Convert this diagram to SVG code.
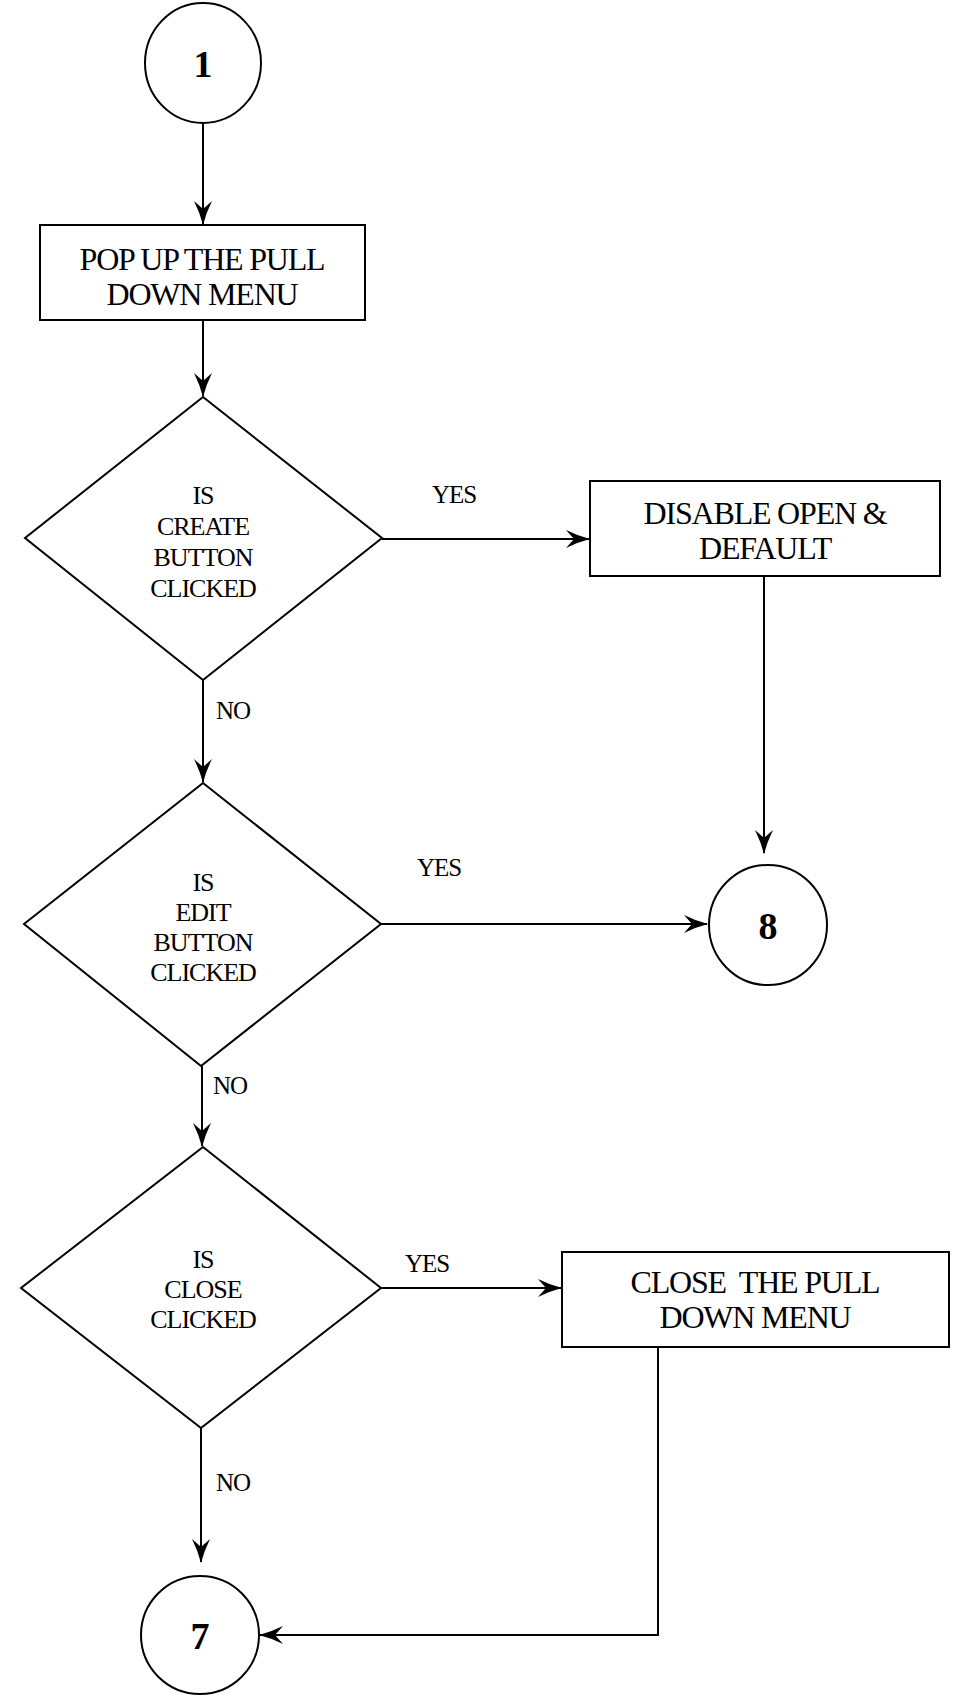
<svg xmlns="http://www.w3.org/2000/svg" width="954" height="1695" viewBox="0 0 954 1695">
<defs>
<style>
.shape{fill:#fff;stroke:#000;stroke-width:2}
.line{fill:none;stroke:#000;stroke-width:2}
.t{font-family:"Liberation Serif","Times New Roman",serif;fill:#000;text-anchor:middle}
.box{font-size:32px;letter-spacing:-1.2px}
.dia{font-size:26px;letter-spacing:-1px}
.lbl{font-size:25px;letter-spacing:-1px;text-anchor:start}
.num{font-size:38px;font-weight:bold}
</style>
<marker id="arr" viewBox="0 0 24 18" refX="23" refY="9" markerWidth="24" markerHeight="18" markerUnits="userSpaceOnUse" orient="auto">
<path d="M0,0 Q12,6 24,9 Q12,12 0,18 L8,9 Z" fill="#000"/>
</marker>
</defs>
<rect width="954" height="1695" fill="#fff"/>
<g id="connectors">
<line class="line" x1="203" y1="123" x2="203" y2="224" marker-end="url(#arr)"/>
<line class="line" x1="203" y1="320" x2="203" y2="396" marker-end="url(#arr)"/>
<line class="line" x1="382" y1="539" x2="589" y2="539" marker-end="url(#arr)"/>
<line class="line" x1="764" y1="576" x2="764" y2="853" marker-end="url(#arr)"/>
<line class="line" x1="203" y1="680" x2="203" y2="782" marker-end="url(#arr)"/>
<line class="line" x1="381" y1="924" x2="707" y2="924" marker-end="url(#arr)"/>
<line class="line" x1="202" y1="1066" x2="202" y2="1146" marker-end="url(#arr)"/>
<line class="line" x1="381" y1="1288" x2="561" y2="1288" marker-end="url(#arr)"/>
<line class="line" x1="201" y1="1428" x2="201" y2="1562" marker-end="url(#arr)"/>
<polyline class="line" points="658,1347 658,1635 260,1635" marker-end="url(#arr)"/>
<text class="t lbl" x="432" y="503">YES</text>
<text class="t lbl" x="216" y="719">NO</text>
<text class="t lbl" x="417" y="876">YES</text>
<text class="t lbl" x="213" y="1094">NO</text>
<text class="t lbl" x="405" y="1272">YES</text>
<text class="t lbl" x="216" y="1491">NO</text>
</g>
<g id="start1">
<ellipse class="shape" cx="203" cy="63" rx="58" ry="60"/>
<text class="t num" x="203" y="77">1</text>
</g>
<g id="popup">
<rect class="shape" x="40" y="225" width="325" height="95"/>
<text class="t box" x="202" y="270">POP UP THE PULL</text>
<text class="t box" x="202" y="305">DOWN MENU</text>
</g>
<g id="create">
<polygon class="shape" points="203,397 382,538 203,680 25,538"/>
<text class="t dia" x="203" y="504">IS</text>
<text class="t dia" x="203" y="535">CREATE</text>
<text class="t dia" x="203" y="566">BUTTON</text>
<text class="t dia" x="203" y="597">CLICKED</text>
</g>
<g id="disable">
<rect class="shape" x="590" y="481" width="350" height="95"/>
<text class="t box" x="765" y="524">DISABLE OPEN &amp;</text>
<text class="t box" x="765" y="559">DEFAULT</text>
</g>
<g id="edit">
<polygon class="shape" points="203,783 381,924 201,1066 24,924"/>
<text class="t dia" x="203" y="891">IS</text>
<text class="t dia" x="203" y="921">EDIT</text>
<text class="t dia" x="203" y="951">BUTTON</text>
<text class="t dia" x="203" y="981">CLICKED</text>
</g>
<g id="conn8">
<ellipse class="shape" cx="768" cy="925" rx="59" ry="60"/>
<text class="t num" x="768" y="939">8</text>
</g>
<g id="close">
<polygon class="shape" points="203,1147 381,1288 201,1428 21,1288"/>
<text class="t dia" x="203" y="1268">IS</text>
<text class="t dia" x="203" y="1298">CLOSE</text>
<text class="t dia" x="203" y="1328">CLICKED</text>
</g>
<g id="closemenu">
<rect class="shape" x="562" y="1252" width="387" height="95"/>
<text class="t box" x="755" y="1293" xml:space="preserve">CLOSE  THE PULL</text>
<text class="t box" x="755" y="1328">DOWN MENU</text>
</g>
<g id="conn7">
<ellipse class="shape" cx="200" cy="1635" rx="59" ry="59"/>
<text class="t num" x="200" y="1649">7</text>
</g>
</svg>
